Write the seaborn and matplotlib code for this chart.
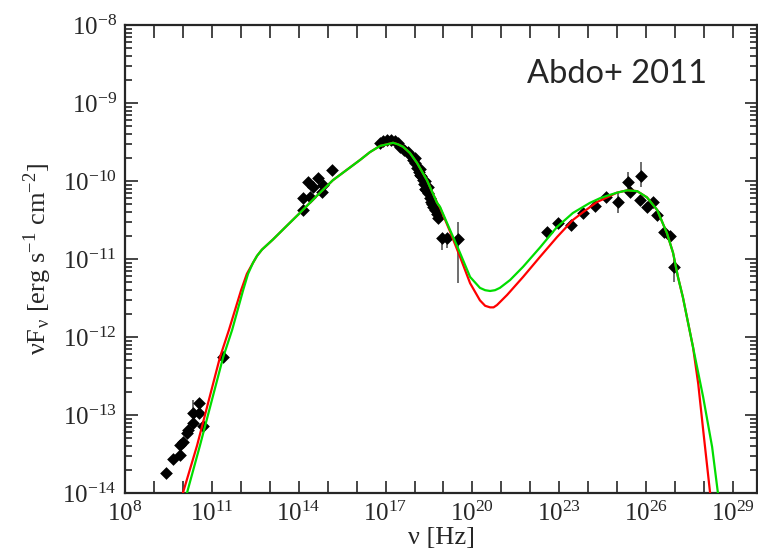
import numpy as np
import pandas as pd
import matplotlib
matplotlib.use('Agg')
import matplotlib.pyplot as plt
import matplotlib.ticker as mticker
import seaborn as sns

# observed SED points (log10 nu [Hz], log10 nuFnu [erg/s/cm2])
obs_lognu = [9.42, 9.66, 9.90, 9.90, 10.00, 10.14, 10.18, 10.35, 10.35, 10.56, 10.56, 10.69, 11.39,
             14.15, 14.15, 14.32, 14.39, 14.49, 14.67, 14.80, 14.84, 15.15,
             16.81, 16.91, 17.05, 17.19, 17.33, 17.43, 17.50, 17.64, 17.78, 17.84, 17.95, 18.02,
             18.09, 18.16, 18.19, 18.22, 18.29, 18.33, 18.36, 18.40, 18.47, 18.54, 18.57, 18.60,
             18.64, 18.71, 18.78, 18.81, 18.02, 18.19, 18.36, 18.47,
             18.95, 19.12, 19.50,
             22.58, 22.96, 23.41, 23.82, 24.23, 24.61, 25.03, 25.37, 25.44, 25.82, 25.79, 26.03,
             26.24, 26.38, 26.62, 26.83, 26.96]
obs_logflux = [-13.74, -13.56, -13.51, -13.38, -13.35, -13.23, -13.19, -12.97, -13.10, -12.85, -12.97, -13.14, -12.26,
               -10.37, -10.22, -10.01, -10.21, -10.08, -9.96, -10.14, -10.05, -9.86,
               -9.51, -9.49, -9.47, -9.47, -9.49, -9.51, -9.56, -9.60, -9.63, -9.67, -9.73, -9.77,
               -9.83, -9.89, -9.92, -9.94, -9.99, -10.04, -10.10, -10.12, -10.15, -10.22, -10.27, -10.30,
               -10.33, -10.37, -10.42, -10.47, -9.70, -9.85, -10.00, -10.08,
               -10.73, -10.73, -10.74,
               -10.65, -10.54, -10.56, -10.41, -10.32, -10.21, -10.27, -10.01, -10.14, -9.94, -10.24, -10.33,
               -10.27, -10.44, -10.65, -10.71, -11.10]

# error bars (log10 nu, lower and upper log10 flux)
err_lognu = [10.35, 18.95, 19.12, 19.50, 25.03, 25.37, 25.82, 26.96]
err_low = [-12.96, -10.88, -10.86, -11.31, -10.41, -10.12, -10.08, -11.29]
err_high = [-12.81, -10.71, -10.71, -10.53, -10.15, -9.88, -9.76, -10.97]

# model curves
green_lognu = [10.14, 10.59, 11.39, 11.70, 12.08, 12.25, 12.42, 12.56, 12.73, 13.11, 13.60, 14.04,
               14.60, 15.18, 16.12, 16.46, 16.81, 17.05, 17.26, 17.43, 17.60, 17.84, 18.09, 18.43, 18.78,
               18.88, 19.23, 19.57, 19.92, 20.26, 20.44, 20.61, 20.78, 20.95, 21.30, 21.75, 22.34,
               22.92, 23.47, 24.06, 24.41, 24.65, 24.99, 25.34, 25.69, 26.03, 26.38, 26.72, 26.93,
               27.10, 27.27, 27.62, 27.97, 28.28, 28.48]
green_logflux = [-14.00, -13.39, -12.26, -11.91, -11.40, -11.19, -11.05, -10.96, -10.88, -10.75, -10.57, -10.41,
                 -10.20, -9.99, -9.73, -9.63, -9.55, -9.53, -9.51, -9.53, -9.56, -9.64, -9.77, -9.99, -10.28,
                 -10.33, -10.63, -10.92, -11.23, -11.37, -11.40, -11.41, -11.40, -11.37, -11.27, -11.10, -10.85,
                 -10.59, -10.41, -10.28, -10.22, -10.19, -10.15, -10.12, -10.13, -10.21, -10.37, -10.67, -10.92,
                 -11.23, -11.49, -12.13, -12.77, -13.41, -14.00]
red_lognu = [10.00, 10.49, 11.28, 11.59, 12.01, 12.21, 12.42, 12.56, 12.73, 13.11, 13.60, 14.04,
             14.60, 15.18, 16.12, 16.46, 16.81, 17.05, 17.26, 17.43, 17.60, 17.84, 18.09, 18.43, 18.78,
             18.88, 19.23, 19.57, 19.92, 20.26, 20.44, 20.61, 20.73, 20.85, 21.20, 21.75, 22.34,
             22.92, 23.47, 23.82, 24.30, 24.65, 24.99, 25.34, 25.69, 26.03, 26.38, 26.72, 26.93,
             27.10, 27.27, 27.62, 27.80, 27.97, 28.21]
red_logflux = [-14.00, -13.39, -12.26, -11.91, -11.40, -11.19, -11.05, -10.96, -10.88, -10.75, -10.57, -10.41,
               -10.20, -9.99, -9.73, -9.63, -9.55, -9.53, -9.51, -9.53, -9.56, -9.64, -9.77, -9.99, -10.28,
               -10.34, -10.65, -10.97, -11.31, -11.53, -11.60, -11.62, -11.62, -11.59, -11.46, -11.23, -10.97,
               -10.72, -10.50, -10.40, -10.27, -10.21, -10.15, -10.12, -10.13, -10.21, -10.37, -10.67, -10.92,
               -11.23, -11.49, -12.13, -12.60, -13.19, -14.00]

obs = pd.DataFrame({'nu': 10.0 ** np.array(obs_lognu), 'flux': 10.0 ** np.array(obs_logflux)})
green = pd.DataFrame({'nu': 10.0 ** np.array(green_lognu), 'flux': 10.0 ** np.array(green_logflux)})
red = pd.DataFrame({'nu': 10.0 ** np.array(red_lognu), 'flux': 10.0 ** np.array(red_logflux)})

sns.set_style('ticks')
plt.rcParams['font.family'] = ['Liberation Serif', 'DejaVu Serif']
plt.rcParams['mathtext.fontset'] = 'stix'

fig = plt.figure(figsize=(7.58, 5.59), dpi=100)
ax = fig.add_axes([125 / 758, 66 / 559, 632 / 758, 468 / 559])
ax.set_xscale('log')
ax.set_yscale('log')

# error bars
nu_e = 10.0 ** np.array(err_lognu)
lo = 10.0 ** np.array(err_low)
hi = 10.0 ** np.array(err_high)
ax.vlines(nu_e, lo, hi, colors='#555555', lw=1.2, zorder=2)

sns.scatterplot(data=obs, x='nu', y='flux', marker='D', color='black', s=42,
                linewidth=0, ax=ax, zorder=3)
sns.lineplot(data=red, x='nu', y='flux', color='#ff0000', lw=1.6, sort=False, ax=ax, zorder=4)
sns.lineplot(data=green, x='nu', y='flux', color='#00dd00', lw=1.6, sort=False, ax=ax, zorder=5)

ax.set_xlim(1e8, 10 ** 29.83)
ax.set_ylim(1e-14, 1e-8)

ax.xaxis.set_major_locator(mticker.FixedLocator([10.0 ** k for k in range(8, 30, 3)]))
ax.xaxis.set_minor_locator(mticker.FixedLocator([10.0 ** k for k in range(8, 30)]))
ax.xaxis.set_minor_formatter(mticker.NullFormatter())
ax.yaxis.set_major_locator(mticker.LogLocator(base=10, numticks=10))
ax.yaxis.set_minor_locator(mticker.LogLocator(base=10, subs=np.arange(2, 10), numticks=20))
ax.yaxis.set_minor_formatter(mticker.NullFormatter())

ax.tick_params(which='both', direction='in', top=True, right=True, width=1.2, labelsize=18, pad=6)
ax.tick_params(which='major', length=9)
ax.tick_params(axis='x', which='minor', length=9)
ax.tick_params(axis='y', which='minor', length=5)
for s in ax.spines.values():
    s.set_linewidth(1.6)

ax.set_xlabel('ν [Hz]', fontsize=19, labelpad=1)
ax.set_ylabel('νF$_\\mathregular{ν}$ [erg s$^{\\mathregular{-1}}$ cm$^{\\mathregular{-2}}$]',
              fontsize=19, labelpad=6)

ax.text(0.636, 0.876, 'Abdo+ 2011', transform=ax.transAxes, fontsize=23.5,
        family=['Lato', 'DejaVu Sans'], va='baseline', ha='left')

fig.savefig('out.png', dpi=100)
